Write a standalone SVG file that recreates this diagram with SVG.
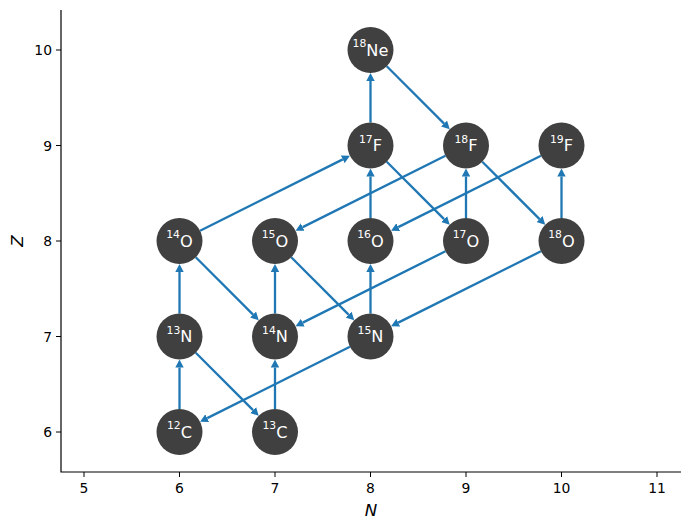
<svg xmlns="http://www.w3.org/2000/svg" width="690" height="529" viewBox="0 0 690 529">
<style>
.ax{stroke:#000;stroke-width:1.2;fill:none}
.tk{stroke:#000;stroke-width:1}
.tl{font-family:"DejaVu Sans",sans-serif;font-size:13.9px;fill:#000}
.al{font-family:"DejaVu Sans",sans-serif;font-size:16.7px;font-style:italic;fill:#000}
.e{stroke:#1f77b4;stroke-width:2.3;fill:none;marker-end:url(#ah)}
.n circle{fill:#404040}
.n text{font-family:"DejaVu Sans",sans-serif;font-size:16.2px;fill:#fff;text-anchor:middle}
.s{font-size:10.8px}
</style>
<defs>
<marker id="ah" markerUnits="userSpaceOnUse" markerWidth="8" markerHeight="9" viewBox="0 -4.5 8 9" refX="0" refY="0" orient="auto">
<path d="M0,-4.2 L8,0 L0,4.2 z" fill="#1f77b4"/>
</marker>
</defs>
<rect width="690" height="529" fill="#fff"/>
<g id="axes">
<path class="ax" d="M61,10 V472 H681"/>
<g class="tk">
<line x1="84" y1="472" x2="84" y2="477"/>
<line x1="179.5" y1="472" x2="179.5" y2="477"/>
<line x1="275" y1="472" x2="275" y2="477"/>
<line x1="370.5" y1="472" x2="370.5" y2="477"/>
<line x1="466" y1="472" x2="466" y2="477"/>
<line x1="561.5" y1="472" x2="561.5" y2="477"/>
<line x1="657" y1="472" x2="657" y2="477"/>
<line x1="56" y1="432" x2="61" y2="432"/>
<line x1="56" y1="336.5" x2="61" y2="336.5"/>
<line x1="56" y1="241" x2="61" y2="241"/>
<line x1="56" y1="145.5" x2="61" y2="145.5"/>
<line x1="56" y1="50" x2="61" y2="50"/>
</g>
<g class="tl" text-anchor="middle">
<text x="84" y="493">5</text>
<text x="179.5" y="493">6</text>
<text x="275" y="493">7</text>
<text x="370.5" y="493">8</text>
<text x="466" y="493">9</text>
<text x="561.5" y="493">10</text>
<text x="657" y="493">11</text>
</g>
<g class="tl" text-anchor="end">
<text x="52" y="437">6</text>
<text x="52" y="341.5">7</text>
<text x="52" y="246">8</text>
<text x="52" y="150.5">9</text>
<text x="52" y="55">10</text>
</g>
<text class="al" x="371" y="516" text-anchor="middle">N</text>
<text class="al" x="0" y="0" text-anchor="middle" transform="translate(23,241) rotate(-90)">Z</text>
</g>
<g id="edges">
<line class="e" x1="179.5" y1="409" x2="179.5" y2="367.5"/>
<line class="e" x1="179.5" y1="313.5" x2="179.5" y2="272"/>
<line class="e" x1="275" y1="409" x2="275" y2="367.5"/>
<line class="e" x1="275" y1="313.5" x2="275" y2="272"/>
<line class="e" x1="370.5" y1="313.5" x2="370.5" y2="272"/>
<line class="e" x1="370.5" y1="218" x2="370.5" y2="176.5"/>
<line class="e" x1="370.5" y1="122.5" x2="370.5" y2="81"/>
<line class="e" x1="466" y1="218" x2="466" y2="176.5"/>
<line class="e" x1="561.5" y1="218" x2="561.5" y2="176.5"/>
<line class="e" x1="195.76" y1="257.26" x2="253.08" y2="314.58"/>
<line class="e" x1="195.76" y1="352.76" x2="253.08" y2="410.08"/>
<line class="e" x1="291.26" y1="257.26" x2="348.58" y2="314.58"/>
<line class="e" x1="386.76" y1="66.26" x2="444.08" y2="123.58"/>
<line class="e" x1="386.76" y1="161.76" x2="444.08" y2="219.08"/>
<line class="e" x1="482.26" y1="161.76" x2="539.58" y2="219.08"/>
<line class="e" x1="200.07" y1="230.71" x2="342.77" y2="159.37"/>
<line class="e" x1="445.43" y1="155.79" x2="302.73" y2="227.13"/>
<line class="e" x1="540.93" y1="155.79" x2="398.23" y2="227.13"/>
<line class="e" x1="445.43" y1="251.29" x2="302.73" y2="322.63"/>
<line class="e" x1="540.93" y1="251.29" x2="398.23" y2="322.63"/>
<line class="e" x1="349.93" y1="346.79" x2="207.23" y2="418.13"/>
</g>
<g id="C12" class="n"><circle cx="179.5" cy="432" r="23"/><text x="179.5" y="437.5"><tspan class="s" dy="-8.5">12</tspan><tspan dy="8.5">C</tspan></text></g>
<g id="C13" class="n"><circle cx="275" cy="432" r="23"/><text x="275" y="437.5"><tspan class="s" dy="-8.5">13</tspan><tspan dy="8.5">C</tspan></text></g>
<g id="N13" class="n"><circle cx="179.5" cy="336.5" r="23"/><text x="179.5" y="342"><tspan class="s" dy="-8.5">13</tspan><tspan dy="8.5">N</tspan></text></g>
<g id="N14" class="n"><circle cx="275" cy="336.5" r="23"/><text x="275" y="342"><tspan class="s" dy="-8.5">14</tspan><tspan dy="8.5">N</tspan></text></g>
<g id="N15" class="n"><circle cx="370.5" cy="336.5" r="23"/><text x="370.5" y="342"><tspan class="s" dy="-8.5">15</tspan><tspan dy="8.5">N</tspan></text></g>
<g id="O14" class="n"><circle cx="179.5" cy="241" r="23"/><text x="179.5" y="246.5"><tspan class="s" dy="-8.5">14</tspan><tspan dy="8.5">O</tspan></text></g>
<g id="O15" class="n"><circle cx="275" cy="241" r="23"/><text x="275" y="246.5"><tspan class="s" dy="-8.5">15</tspan><tspan dy="8.5">O</tspan></text></g>
<g id="O16" class="n"><circle cx="370.5" cy="241" r="23"/><text x="370.5" y="246.5"><tspan class="s" dy="-8.5">16</tspan><tspan dy="8.5">O</tspan></text></g>
<g id="O17" class="n"><circle cx="466" cy="241" r="23"/><text x="466" y="246.5"><tspan class="s" dy="-8.5">17</tspan><tspan dy="8.5">O</tspan></text></g>
<g id="O18" class="n"><circle cx="561.5" cy="241" r="23"/><text x="561.5" y="246.5"><tspan class="s" dy="-8.5">18</tspan><tspan dy="8.5">O</tspan></text></g>
<g id="F17" class="n"><circle cx="370.5" cy="145.5" r="23"/><text x="370.5" y="151"><tspan class="s" dy="-8.5">17</tspan><tspan dy="8.5">F</tspan></text></g>
<g id="F18" class="n"><circle cx="466" cy="145.5" r="23"/><text x="466" y="151"><tspan class="s" dy="-8.5">18</tspan><tspan dy="8.5">F</tspan></text></g>
<g id="F19" class="n"><circle cx="561.5" cy="145.5" r="23"/><text x="561.5" y="151"><tspan class="s" dy="-8.5">19</tspan><tspan dy="8.5">F</tspan></text></g>
<g id="Ne18" class="n"><circle cx="370.5" cy="50" r="23"/><text x="370.5" y="55.5"><tspan class="s" dy="-8.5">18</tspan><tspan dy="8.5">Ne</tspan></text></g>
</svg>
